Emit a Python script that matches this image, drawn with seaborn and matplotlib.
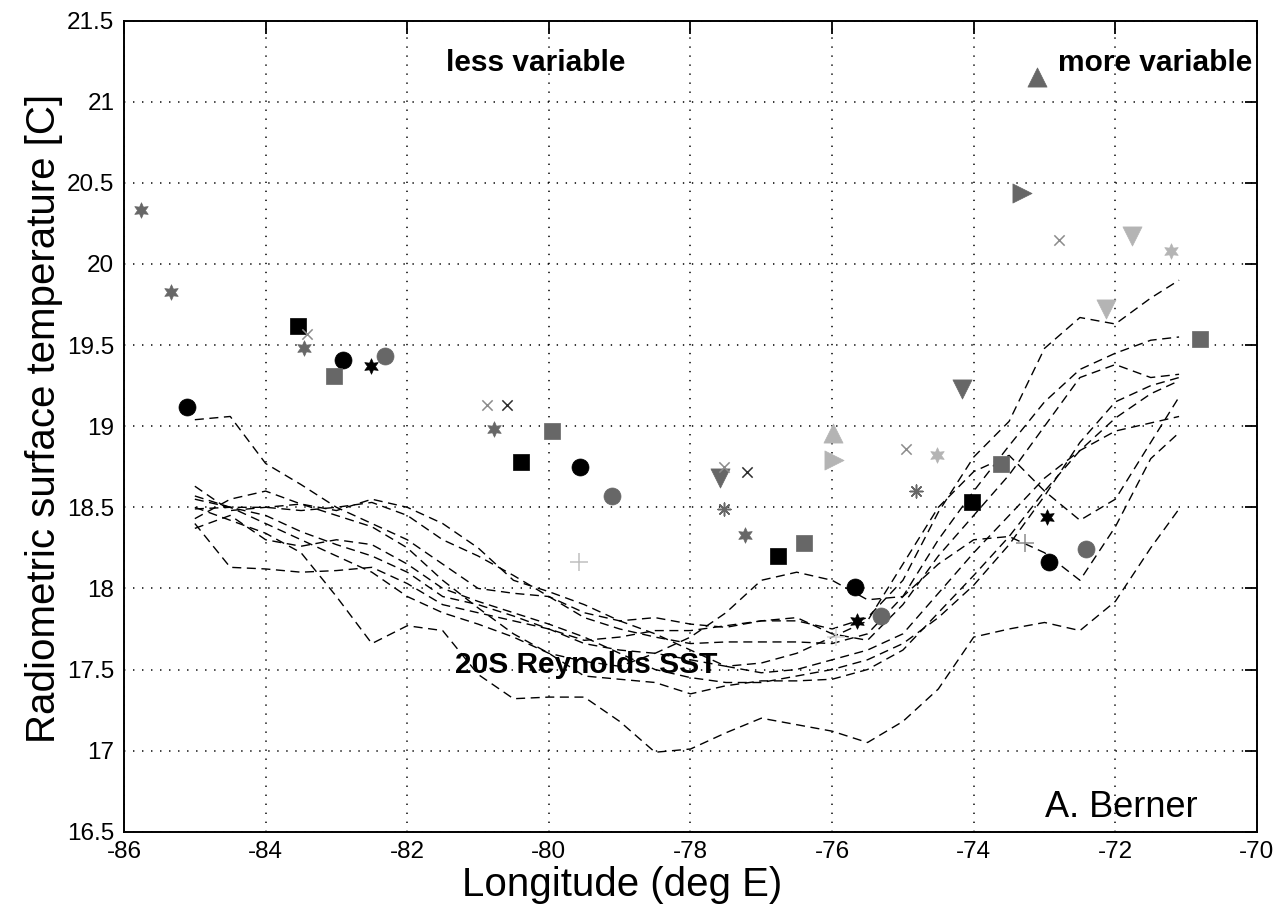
import numpy as np
import pandas as pd
import matplotlib
matplotlib.use("Agg")
import matplotlib.pyplot as plt
import seaborn as sns

# ---------------- data ----------------
lon_grid = [-85.0, -84.5, -84.0, -83.5, -83.0, -82.5, -82.0, -81.5, -81.0, -80.5,
            -80.0, -79.5, -79.0, -78.5, -78.0, -77.5, -77.0, -76.5, -76.0, -75.5,
            -75.0, -74.5, -74.0, -73.5, -73.0, -72.5, -72.0, -71.5, -71.1]

sst_line1 = [19.04, 19.06, 18.77, 18.64, 18.50, 18.40, 18.30, 18.15, 18.00, 17.97,
             17.95, 17.85, 17.80, 17.82, 17.78, 17.76, 17.80, 17.80, 17.75, 17.82,
             18.05, 18.47, 18.81, 19.03, 19.48, 19.67, 19.63, 19.79, 19.90]
sst_line2 = [18.50, 18.42, 18.34, 18.22, 17.95, 17.66, 17.77, 17.74, 17.47, 17.32,
             17.33, 17.33, 17.18, 16.99, 17.01, 17.11, 17.20, 17.16, 17.12, 17.05,
             17.18, 17.38, 17.70, 17.75, 17.79, 17.74, 17.92, 18.25, 18.49]
sst_line3 = [18.40, 18.13, 18.12, 18.10, 18.11, 18.13, 18.03, 17.90, 17.85, 17.80,
             17.75, 17.68, 17.70, 17.74, 17.74, 17.77, 17.80, 17.82, 17.72, 17.68,
             17.90, 18.20, 18.45, 18.70, 19.00, 19.30, 19.38, 19.30, 19.32]
sst_line4 = [18.55, 18.50, 18.50, 18.48, 18.50, 18.53, 18.45, 18.30, 18.20, 18.08,
             17.95, 17.82, 17.75, 17.70, 17.66, 17.67, 17.67, 17.67, 17.66, 17.72,
             17.95, 18.30, 18.60, 18.88, 19.15, 19.35, 19.45, 19.53, 19.55]
sst_line5 = [18.63, 18.48, 18.50, 18.52, 18.45, 18.38, 18.25, 18.05, 17.88, 17.72,
             17.60, 17.46, 17.44, 17.42, 17.35, 17.40, 17.43, 17.43, 17.44, 17.50,
             17.62, 17.85, 18.08, 18.32, 18.60, 18.85, 19.05, 19.20, 19.28]
sst_line6 = [18.49, 18.50, 18.40, 18.30, 18.20, 18.10, 17.95, 17.85, 17.78, 17.70,
             17.60, 17.55, 17.52, 17.60, 17.70, 17.85, 18.05, 18.10, 18.05, 17.93,
             17.95, 18.15, 18.30, 18.32, 18.22, 18.05, 18.38, 18.80, 18.96]
sst_line7 = [18.43, 18.55, 18.60, 18.52, 18.48, 18.55, 18.50, 18.40, 18.25, 18.05,
             17.98, 17.90, 17.80, 17.72, 17.62, 17.52, 17.48, 17.50, 17.56, 17.62,
             17.72, 17.97, 18.22, 18.45, 18.68, 18.85, 18.97, 19.02, 19.06]
sst_line8 = [18.37, 18.45, 18.30, 18.26, 18.30, 18.27, 18.15, 18.00, 17.92, 17.85,
             17.78, 17.70, 17.60, 17.50, 17.45, 17.42, 17.42, 17.46, 17.50, 17.56,
             17.66, 17.82, 18.02, 18.27, 18.57, 18.90, 19.15, 19.25, 19.30]
sst_line9 = [18.57, 18.50, 18.45, 18.35, 18.27, 18.20, 18.10, 17.95, 17.90, 17.83,
             17.75, 17.66, 17.62, 17.60, 17.56, 17.52, 17.54, 17.60, 17.70, 17.80,
             18.15, 18.50, 18.72, 18.82, 18.60, 18.42, 18.55, 18.90, 19.18]

# radiometric observations
pt_lon = [-85.76, -85.34, -85.11, -83.55, -83.41, -83.46, -83.04, -82.91, -82.51, -82.32,
          -80.88, -80.59, -80.78, -80.39, -79.95, -79.56, -79.11, -79.57,
          -77.52, -77.59, -77.20, -77.52, -77.23, -76.77, -76.40,
          -75.99, -75.97, -75.68, -75.65, -75.31, -75.94,
          -74.95, -74.52, -74.82, -74.17, -74.02, -73.61, -72.97, -73.28, -72.93, -72.41,
          -73.10, -73.32, -72.79, -71.76, -71.22, -72.13, -70.81]
pt_sst = [20.33, 19.83, 19.12, 19.62, 19.57, 19.48, 19.31, 19.41, 19.37, 19.43,
          19.13, 19.13, 18.98, 18.78, 18.97, 18.75, 18.57, 18.16,
          18.75, 18.68, 18.72, 18.49, 18.33, 18.20, 18.28,
          18.96, 18.79, 18.01, 17.80, 17.83, 17.70,
          18.86, 18.82, 18.60, 19.23, 18.53, 18.77, 18.44, 18.28, 18.16, 18.24,
          21.15, 20.44, 20.15, 20.17, 20.08, 19.72, 19.54]
pt_kind = ["hex", "hex", "circ", "sq", "x", "hex", "sq", "circ", "hex", "circ",
           "x", "x", "hex", "sq", "sq", "circ", "circ", "plus",
           "x", "dtri", "x", "ast", "hex", "sq", "sq",
           "utri", "rtri", "circ", "hex", "circ", "plus",
           "x", "hex", "ast", "dtri", "sq", "sq", "hex", "plus", "circ", "circ",
           "utri", "rtri", "x", "dtri", "hex", "dtri", "sq"]
pt_tone = ["dark", "dark", "black", "black", "mid", "dark", "dark", "black", "black", "dark",
           "mid", "deep", "dark", "black", "dark", "black", "dark", "pale",
           "mid", "dark", "deep", "dark", "dark", "black", "dark",
           "light", "light", "black", "black", "dark", "faint",
           "mid", "light", "dark", "dark", "black", "dark", "black", "mid", "black", "dark",
           "dark", "dark", "mid", "light", "light", "light", "dark"]

x_ticks = [-86, -84, -82, -80, -78, -76, -74, -72, -70]
y_ticks = [16.5, 17, 17.5, 18, 18.5, 19, 19.5, 20, 20.5, 21, 21.5]
y_tick_labels = ["16.5", "17", "17.5", "18", "18.5", "19", "19.5", "20", "20.5", "21", "21.5"]

# ---------------- styling ----------------
sns.set_style("white")
plt.rcParams["font.family"] = ["Liberation Sans", "DejaVu Sans"]
plt.rcParams["text.color"] = "black"
plt.rcParams["axes.labelcolor"] = "black"

tone_colors = {"black": "#000000", "dark": "#676767", "light": "#b4b4b4",
               "mid": "#8c8c8c", "deep": "#2e2e2e", "pale": "#c0c0c0", "faint": "#d4d4d4"}
kind_markers = {"hex": (6, 1, 0), "circ": "o", "sq": "s", "x": "x", "plus": "+",
                "ast": (8, 2, 0), "dtri": "v", "utri": "^", "rtri": ">"}
kind_sizes = {"hex": 125, "circ": 150, "sq": 140, "x": 55, "plus": 150,
              "ast": 85, "dtri": 190, "utri": 190, "rtri": 190}

fig = plt.figure(figsize=(12.8, 9.14), dpi=100)
ax = fig.add_axes([0.0969, 0.090, 0.982 - 0.0969, 0.9774 - 0.090])

# Reynolds SST lines
lines = [sst_line1, sst_line2, sst_line3, sst_line4, sst_line5,
         sst_line6, sst_line7, sst_line8, sst_line9]
df_lines = pd.DataFrame({
    "lon": np.tile(lon_grid, len(lines)),
    "sst": np.concatenate(lines),
    "line": np.repeat(np.arange(len(lines)), len(lon_grid)),
})
sns.lineplot(data=df_lines, x="lon", y="sst", units="line", estimator=None,
             color="black", linewidth=1.0, linestyle=(0, (6.5, 4)),
             sort=True, legend=False, ax=ax, zorder=2)

# observation markers
df_pts = pd.DataFrame({"lon": pt_lon, "sst": pt_sst, "kind": pt_kind, "tone": pt_tone})
for (kind, tone), sub in df_pts.groupby(["kind", "tone"]):
    m = kind_markers[kind]
    col = tone_colors[tone]
    kws = dict(x=sub["lon"], y=sub["sst"], marker=m, color=col,
               s=kind_sizes[kind], ax=ax, zorder=3, legend=False)
    if kind in ("x", "plus", "ast"):
        kws["linewidth"] = 1.1
    else:
        kws["edgecolor"] = col
        kws["linewidth"] = 0.5
    sns.scatterplot(**kws)

# axes cosmetics
ax.set_xlim(-86, -70)
ax.set_ylim(16.5, 21.5)
ax.set_xticks(x_ticks)
ax.set_xticklabels([str(v) for v in x_ticks])
ax.set_yticks(y_ticks)
ax.set_yticklabels(y_tick_labels)
ax.grid(True, color="black", linestyle=(0, (0.9, 5)), linewidth=1.1)
ax.set_axisbelow(True)
ax.tick_params(direction="in", length=9, width=1.3, labelsize=17.5, colors="black",
               top=True, right=True, pad=7)
for sp in ax.spines.values():
    sp.set_color("black")
    sp.set_linewidth(1.4)

ax.set_xlabel("Longitude (deg E)", fontsize=29)
ax.set_ylabel("Radiometric surface temperature [C]", fontsize=29)
ax.xaxis.set_label_coords(0.44, -0.042)
ax.yaxis.set_label_coords(-0.054, 0.51)

ax.text(-81.45, 21.19, "less variable", fontsize=21.5, fontweight="bold",
        ha="left", va="baseline", zorder=4)
ax.text(-70.07, 21.19, "more variable", fontsize=21.5, fontweight="bold",
        ha="right", va="baseline", zorder=4)
ax.text(-81.32, 17.48, "20S Reynolds SST", fontsize=21.5, fontweight="bold",
        ha="left", va="baseline", zorder=4)
ax.text(-72.99, 16.59, "A. Berner", fontsize=26, ha="left", va="baseline", zorder=4)

fig.savefig("out.png", dpi=100, facecolor="white")
